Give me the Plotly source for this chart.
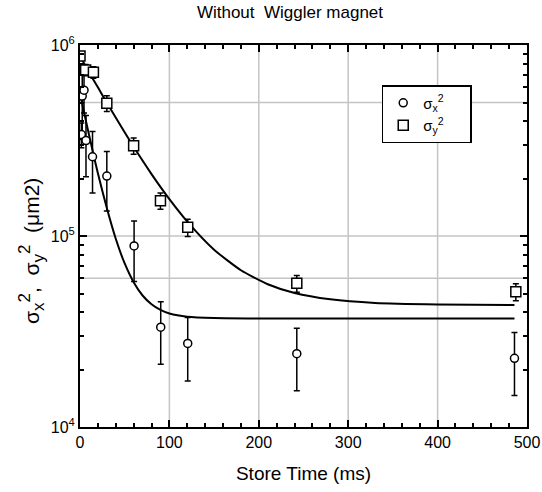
import plotly.graph_objects as go

# ---- data ----
# sigma_x^2 measurements (circles)
sx_time = [1.5, 2.5, 4.5, 6.7, 14, 30, 60.5, 90.3, 120.5, 242.5, 486]
sx_val = [3.4e5, 5.4e5, 5.8e5, 3.16e5, 2.6e5, 2.06e5, 8.87e4, 3.33e4, 2.74e4, 2.42e4, 2.29e4]
sx_err = [0.5e5, 2.2e5, 1.4e5, 1.12e5, 0.92e5, 0.71e5, 3.1e4, 1.2e4, 1.0e4, 0.87e4, 0.83e4]

# sigma_y^2 measurements (squares)
sy_time = [0, 6.3, 15, 30, 60, 90, 120.5, 242.5, 487.5]
sy_val = [8.75e5, 7.4e5, 7.2e5, 4.95e5, 2.97e5, 1.53e5, 1.11e5, 5.65e4, 5.1e4]
sy_err = [0.4e5, 0.5e5, 0.5e5, 0.47e5, 0.29e5, 0.15e5, 1.15e4, 0.57e4, 0.52e4]

# fitted curves
fx_time = [0, 5, 10, 15, 20, 30, 40, 50, 60, 70, 80, 90, 100, 120, 150, 200, 300, 486]
fx_val = [5.57e5, 4.34e5, 3.4e5, 2.68e5, 2.13e5, 1.40e5, 9.67e4, 7.18e4, 5.73e4,
          4.88e4, 4.39e4, 4.1e4, 3.93e4, 3.78e4, 3.72e4, 3.7e4, 3.7e4, 3.7e4]
fy_time = [0, 10, 20, 30, 45, 60, 80, 100, 120, 150, 180, 210, 240, 280, 330, 400, 486]
fy_val = [8.73e5, 7.23e5, 6.0e5, 4.99e5, 3.81e5, 2.93e5, 2.11e5, 1.56e5, 1.19e5,
          8.48e4, 6.62e4, 5.59e4, 5.03e4, 4.66e4, 4.46e4, 4.38e4, 4.35e4]

y_major = [1e4, 1e5, 1e6]
y_major_text = ["10<sup>4</sup>", "10<sup>5</sup>", "10<sup>6</sup>"]
y_minor = [2e4, 3e4, 4e4, 5e4, 6e4, 7e4, 8e4, 9e4, 2e5, 3e5, 4e5, 5e5, 6e5, 7e5, 8e5, 9e5]
y_grid = [6e4, 1e5, 5e5]
x_grid = [100, 200, 300, 400]

FONT = "Arial, Liberation Sans, sans-serif"
PAD = "\u00a0\u00a0\u00a0\u00a0\u00a0"


def big(s, px):
    return "<span style='font-size:%dpx'>%s</span>" % (px, s)


ytitle = ("σ<sub>" + big("x", 17) + "</sub><sup>" + big("2", 17) + "</sup>,\u00a0 "
          "σ<sub>" + big("y", 17) + "</sub><sup>" + big("2", 17) + "</sup>\u00a0 (μm2)")

fig = go.Figure()

fig.add_trace(go.Scatter(x=fx_time, y=fx_val, mode="lines", line=dict(color="black", width=2, shape="spline", smoothing=0.6),
                         showlegend=False, hoverinfo="skip"))
fig.add_trace(go.Scatter(x=fy_time, y=fy_val, mode="lines", line=dict(color="black", width=2, shape="spline", smoothing=0.6),
                         showlegend=False, hoverinfo="skip"))

fig.add_trace(go.Scatter(
    x=sx_time, y=sx_val, mode="markers", name="σ<sub>x</sub><sup>2</sup>" + PAD,
    marker=dict(symbol="circle", size=8, color="white", line=dict(color="black", width=1.5)),
    error_y=dict(type="data", array=sx_err, color="black", thickness=1.5, width=3),
))
fig.add_trace(go.Scatter(
    x=sy_time, y=sy_val, mode="markers", name="σ<sub>y</sub><sup>2</sup>" + PAD,
    marker=dict(symbol="square", size=10, color="white", line=dict(color="black", width=1.5)),
    error_y=dict(type="data", array=sy_err, color="black", thickness=1.5, width=3),
))

shapes = []
for gx in x_grid:
    shapes.append(dict(type="line", xref="x", yref="paper", x0=gx, x1=gx, y0=0, y1=1,
                       line=dict(color="#c4c4c4", width=1.5), layer="below"))
for gy in y_grid:
    shapes.append(dict(type="line", xref="paper", yref="y", x0=0, x1=1, y0=gy, y1=gy,
                       line=dict(color="#c4c4c4", width=1.5), layer="below"))

fig.update_layout(
    width=542, height=492,
    margin=dict(l=80, r=15, t=45, b=65, autoexpand=False),
    paper_bgcolor="white", plot_bgcolor="white",
    font=dict(family=FONT, size=16, color="black"),
    title=dict(text="Without  Wiggler magnet", x=0.535, xanchor="center", y=0.976, yanchor="middle",
               font=dict(family=FONT, size=17), automargin=False),
    shapes=shapes,
    annotations=[dict(text=ytitle, textangle=-90, xref="paper", yref="paper",
                      x=-0.108, y=0.46, xanchor="center", yanchor="middle", showarrow=False,
                      font=dict(family=FONT, size=21))],
    legend=dict(x=0.675, y=0.895, xanchor="left", yanchor="top", bordercolor="black", borderwidth=1.5,
                bgcolor="white", font=dict(family=FONT, size=15), itemwidth=30,
                tracegroupgap=0),
    showlegend=True,
)

fig.update_xaxes(
    range=[0, 500], tickmode="array", tickvals=[0, 100, 200, 300, 400, 500],
    ticks="inside", ticklen=7, tickwidth=1.5, tickcolor="black",
    showline=True, linecolor="black", linewidth=2, mirror="ticks",
    showgrid=False, zeroline=False, automargin=False,
    minor=dict(ticks="inside", ticklen=4, tickwidth=1.5, tickcolor="black", dtick=20, showgrid=False),
    title=dict(text="Store Time (ms)", font=dict(family=FONT, size=19), standoff=16),
    tickfont=dict(family=FONT, size=16),
)
fig.update_yaxes(
    type="log", range=[4, 6], tickmode="array", tickvals=y_major, ticktext=y_major_text,
    ticks="inside", ticklen=7, tickwidth=1.5, tickcolor="black",
    showline=True, linecolor="black", linewidth=2, mirror="ticks",
    showgrid=False, zeroline=False, automargin=False,
    minor=dict(ticks="inside", ticklen=4, tickwidth=1.5, tickcolor="black", tickvals=y_minor, showgrid=False),
    tickfont=dict(family=FONT, size=16),
)

fig.write_html("out.html", config={"displayModeBar": False},
               post_script="document.body.style.margin='0';document.body.style.overflow='hidden';")
